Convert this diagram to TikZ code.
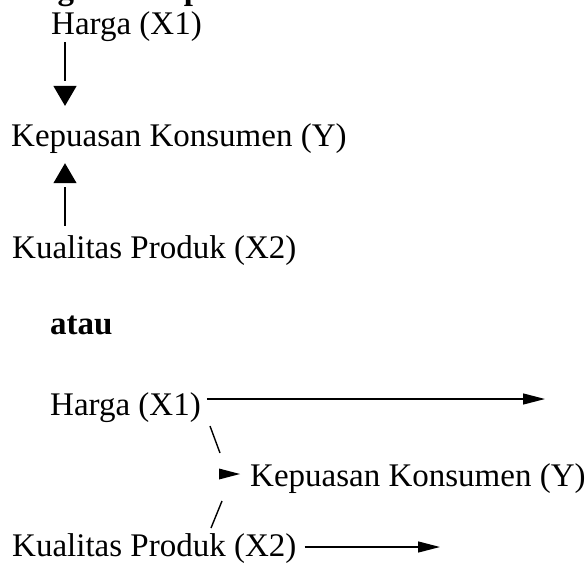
\documentclass[tikz,border=0pt]{standalone}
\usepackage{fontspec}
\setmainfont{Liberation Serif}
\usetikzlibrary{arrows.meta,calc}

\begin{document}
\begin{tikzpicture}[x=1pt,y=-1pt,
  lbl/.style={inner sep=0pt, anchor=base west, font=\fontsize{33}{40}\selectfont},
  ttl/.style={lbl, font=\fontsize{33}{40}\selectfont\bfseries},
  % vertical connector: stem, small gap, big triangle
  stem/.style={line width=1.4pt, dash pattern=on 39pt off 40pt,
    -{Triangle[length=20pt,width=23pt]}},
  % horizontal ray ending in a slim triangle
  rayline/.style={line width=1.3pt, -{Triangle[length=22pt,width=11pt]}},
  slash/.style={line width=1.4pt},
  pointer/.style={fill=black}
]
\useasboundingbox (0,0) rectangle (587,563);
\clip (0,0) rectangle (587,563);

% heading (cut by the page edge)
\node[ttl] (head) at (8,-1) {Diagram \hspace{8pt}Hipotesis};

% --- vertical layout ---
\coordinate (ax) at (65,0);
\node[lbl] (harga1) at (51,34) {Harga (X1)};
\node[lbl] (kep1) at (11,146) {Kepuasan Konsumen (Y)};
\node[lbl] (kual1) at (12,258) {Kualitas Produk (X2)};

\draw[stem] ([yshift=-1pt]harga1.south -| ax) -- ([yshift=17pt]kep1.north -| ax);
\draw[stem] ([yshift=9pt]kual1.north -| ax) -- ([yshift=-10pt]kep1.south -| ax);

\node[ttl] (atau) at (50,334) {atau};

% --- horizontal layout ---
\node[lbl] (harga2) at (50,415) {Harga (X1)};
\node[lbl] (kep2) at (250,486) {Kepuasan Konsumen (Y)};
\node[lbl] (kual2) at (12,556) {Kualitas Produk (X2)};

\coordinate (end1) at (545,399);
\coordinate (end2) at (440,547);
\draw[rayline] ([xshift=6pt]harga2.east |- end1) -- (end1);
\draw[rayline] ([xshift=8pt]kual2.east |- end2) -- (end2);

% slanted strokes leading into the pointer
\coordinate (bs1) at (210,426);
\coordinate (bs2) at (220,453);
\coordinate (fs1) at (222,501);
\coordinate (fs2) at (211,528);
\draw[slash] (bs1) -- (bs2);
\draw[slash] (fs1) -- (fs2);

% pointer in front of Kepuasan Konsumen (Y)
\coordinate (ptip) at ([xshift=-10pt,yshift=12pt]kep2.base west);
\fill[pointer] (ptip) -- ++(-21,-5.5) -- ++(0,11) -- cycle;
\end{tikzpicture}
\end{document}
